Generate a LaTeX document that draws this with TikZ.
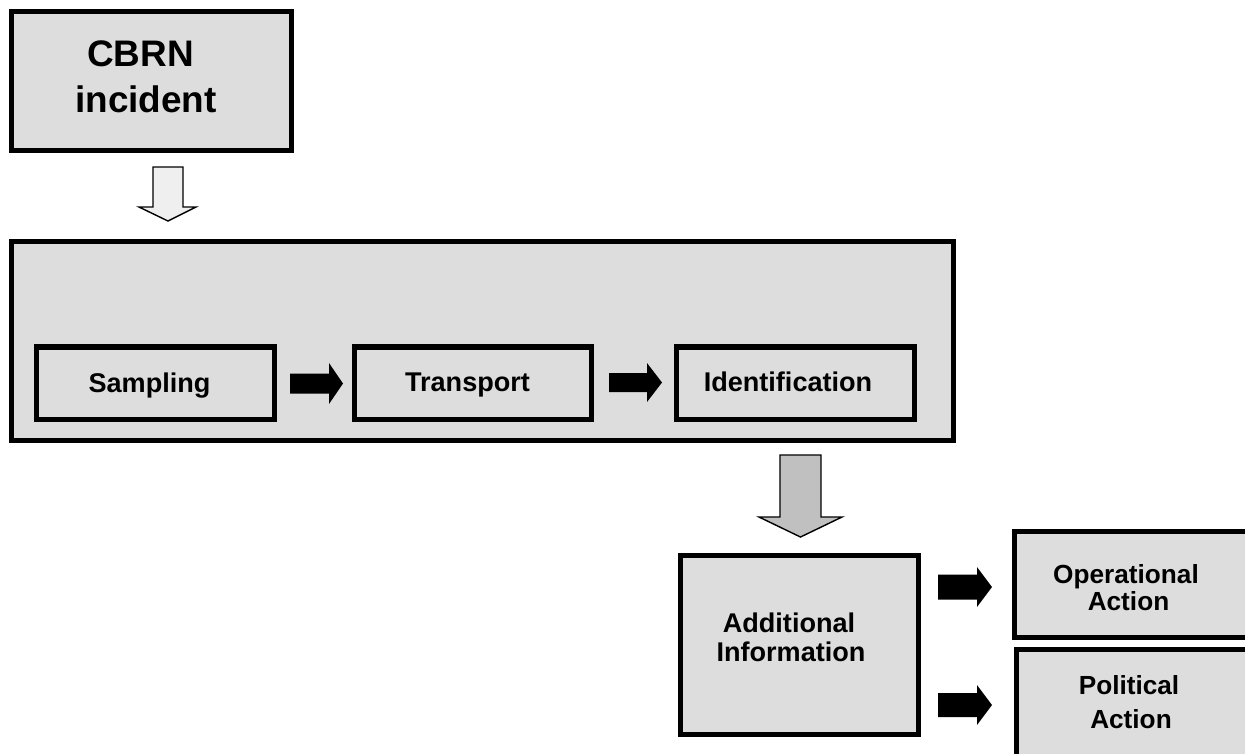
\documentclass[tikz,border=0pt]{standalone}
\usepackage{fontspec}
\setmainfont{Liberation Sans}
\usetikzlibrary{calc}
\definecolor{boxgray}{HTML}{DDDDDD}
\definecolor{palearrow}{HTML}{EFEFEF}
\definecolor{midarrow}{HTML}{C0C0C0}
\begin{document}
\begin{tikzpicture}[x=0.01cm,y=-0.01cm,
  box/.style={draw=black, line width=0.055cm, fill=boxgray, inner sep=0pt, outer sep=0pt},
  lbl/.style={font=\bfseries\fontsize{7.7}{8.4}\selectfont, inner sep=0pt, anchor=base},
  sidelbl/.style={font=\bfseries\fontsize{7.45}{8.4}\selectfont, inner sep=0pt, anchor=base},
  biglbl/.style={font=\bfseries\fontsize{10.5}{13.1}\selectfont, inner sep=0pt, anchor=base},
  blockarrow/.style={fill=black},
  hollowarrow/.style={draw=black, line width=0.4pt, fill=palearrow},
  greyarrow/.style={draw=black, line width=0.4pt, fill=midarrow}]
\useasboundingbox (0,0) rectangle (1245,753);
\clip (0,0) rectangle (1245,753);

% boxes
\node[box, minimum width=2.795cm, minimum height=1.385cm] (cbrn) at (151.5,81) {};
\node[box, minimum width=9.415cm, minimum height=1.985cm] (chain) at (482.5,341) {};
\node[box, minimum width=2.375cm, minimum height=0.725cm] (samp) at (155.5,383) {};
\node[box, minimum width=2.365cm, minimum height=0.725cm] (trans) at (473,383) {};
\node[box, minimum width=2.375cm, minimum height=0.725cm] (ident) at (795.5,383) {};
\node[box, minimum width=2.375cm, minimum height=1.785cm] (addinfo) at (799.5,645) {};
\node[box, minimum width=2.425cm, minimum height=1.055cm] (oper) at (1136,584.5) {};
\node[box, minimum width=2.405cm, minimum height=1.275cm] (polit) at (1137,713.5) {};

% labels, one node per printed line, placed on their baselines
\node[biglbl] (tcbrn1) at (140.5,66) {CBRN};
\node[biglbl] (tcbrn2) at (146,112) {incident};
\node[lbl] (tsamp) at (149.5,392) {Sampling};
\node[lbl] (ttrans) at (467.5,391) {Transport};
\node[lbl] (tident) at (788,391) {Identification};
\node[lbl] (tadd1) at (789,632) {Additional};
\node[lbl] (tadd2) at (791,661) {Information};
\node[sidelbl] (toper1) at (1126,583) {Operational};
\node[sidelbl] (toper2) at (1128.5,610) {Action};
\node[sidelbl] (tpolit1) at (1129,694) {Political};
\node[sidelbl] (tpolit2) at (1131,728) {Action};

% block arrows between the boxes
\coordinate (h1) at (168,167);
\draw[hollowarrow] (h1) ++(-15,0) -- ++(30,0) -- ++(0,40) -- ++(13,0)
  -- (168,221) -- ++(-29,-14) -- ++(14,0) -- cycle;

\coordinate (g1) at (800.5,455);
\draw[greyarrow] (g1) ++(-20.5,0) -- ++(41,0) -- ++(0,62) -- ++(21,0)
  -- (800.5,537) -- ++(-41.5,-20) -- ++(21,0) -- cycle;

\coordinate (a1) at (290,383.5);
\fill[blockarrow] (a1) ++(0,-10) -- ++(39,0) -- ++(0,-10.5) -- ++(14,20.5)
  -- ++(-14,20.5) -- ++(0,-10.5) -- ++(-39,0) -- cycle;

\coordinate (a2) at (609,382.5);
\fill[blockarrow] (a2) ++(0,-9.5) -- ++(38,0) -- ++(0,-10) -- ++(15,19.5)
  -- ++(-15,19.5) -- ++(0,-10) -- ++(-38,0) -- cycle;

\coordinate (a3) at (938,587);
\fill[blockarrow] (a3) ++(0,-12.5) -- ++(39,0) -- ++(0,-7.5) -- ++(15,20)
  -- ++(-15,20) -- ++(0,-7.5) -- ++(-39,0) -- cycle;

\coordinate (a4) at (938,705);
\fill[blockarrow] (a4) ++(0,-12) -- ++(39,0) -- ++(0,-8) -- ++(15,20)
  -- ++(-15,20) -- ++(0,-8) -- ++(-39,0) -- cycle;
\end{tikzpicture}
\end{document}
